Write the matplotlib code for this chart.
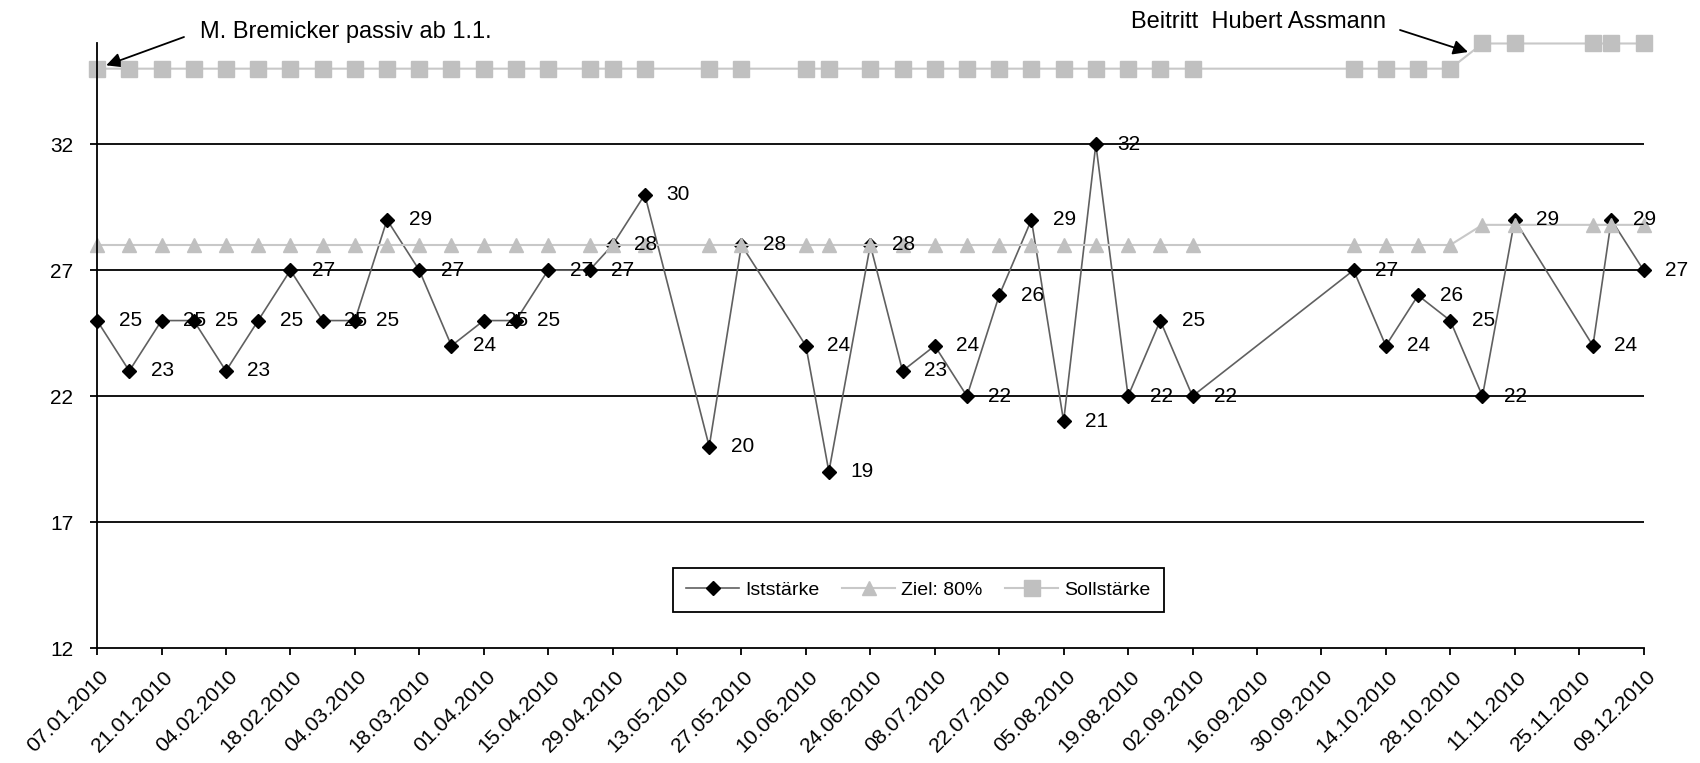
import matplotlib
matplotlib.use('Agg')
import matplotlib.pyplot as plt
import matplotlib.transforms as mtransforms
import pandas as pd

plt.rcParams['font.family'] = ['Liberation Sans', 'DejaVu Sans']

# Probentermine 2010
termine = ['07.01.2010', '14.01.2010', '21.01.2010', '28.01.2010', '04.02.2010', '11.02.2010',
           '18.02.2010', '25.02.2010', '04.03.2010', '11.03.2010', '18.03.2010', '25.03.2010',
           '01.04.2010', '08.04.2010', '15.04.2010', '24.04.2010', '29.04.2010', '06.05.2010',
           '20.05.2010', '27.05.2010', '10.06.2010', '15.06.2010', '24.06.2010', '01.07.2010',
           '08.07.2010', '15.07.2010', '22.07.2010', '29.07.2010', '05.08.2010', '12.08.2010',
           '19.08.2010', '26.08.2010', '02.09.2010', '07.10.2010', '14.10.2010', '21.10.2010',
           '28.10.2010', '04.11.2010', '11.11.2010', '28.11.2010', '02.12.2010', '09.12.2010']

iststaerke = [25, 23, 25, 25, 23, 25, 27, 25, 25, 29, 27, 24, 25, 25, 27, 27, 28, 30, 20, 28, 24,
              19, 28, 23, 24, 22, 26, 29, 21, 32, 22, 25, 22, 27, 24, 26, 25, 22, 29, 24, 29, 27]

ziel = [28, 28, 28, 28, 28, 28, 28, 28, 28, 28, 28, 28, 28, 28, 28, 28, 28, 28, 28, 28, 28,
        28, 28, 28, 28, 28, 28, 28, 28, 28, 28, 28, 28, 28, 28, 28, 28, 28.8, 28.8, 28.8, 28.8, 28.8]

sollstaerke = [35, 35, 35, 35, 35, 35, 35, 35, 35, 35, 35, 35, 35, 35, 35, 35, 35, 35, 35, 35, 35,
               35, 35, 35, 35, 35, 35, 35, 35, 35, 35, 35, 35, 35, 35, 35, 35, 36, 36, 36, 36, 36]

achse_termine = ['07.01.2010', '21.01.2010', '04.02.2010', '18.02.2010', '04.03.2010', '18.03.2010',
                 '01.04.2010', '15.04.2010', '29.04.2010', '13.05.2010', '27.05.2010', '10.06.2010',
                 '24.06.2010', '08.07.2010', '22.07.2010', '05.08.2010', '19.08.2010', '02.09.2010',
                 '16.09.2010', '30.09.2010', '14.10.2010', '28.10.2010', '11.11.2010', '25.11.2010',
                 '09.12.2010']

y_ticks = [12, 17, 22, 27, 32]

datum = pd.to_datetime(termine, format='%d.%m.%Y')
achse_datum = pd.to_datetime(achse_termine, format='%d.%m.%Y')

fig = plt.figure(figsize=(17, 7.63), dpi=100)
ax = fig.add_axes([0.0571, 0.1507, 0.9097, 0.7923])

# Gitternetz
for y in y_ticks[1:]:
    ax.axhline(y, color='black', linewidth=1.3, zorder=1)

ax.plot(datum, iststaerke, color='#606060', linewidth=1.2, marker='D', markersize=7.5,
        markerfacecolor='black', markeredgecolor='black', label='Iststärke', zorder=3, clip_on=False)
ax.plot(datum, ziel, color='#c8c8c8', linewidth=1.5, marker='^', markersize=10,
        markerfacecolor='#c0c0c0', markeredgecolor='#c0c0c0', label='Ziel: 80%', zorder=4, clip_on=False)
ax.plot(datum, sollstaerke, color='#c8c8c8', linewidth=1.5, marker='s', markersize=11.5,
        markerfacecolor='#c0c0c0', markeredgecolor='#c0c0c0', label='Sollstärke', zorder=4, clip_on=False)

# Datenbeschriftung Iststärke
for x_, y_ in zip(datum, iststaerke):
    ax.annotate(str(y_), (x_, y_), xytext=(15.5, 0), textcoords='offset points',
                ha='left', va='center', fontsize=15, color='black', zorder=6, annotation_clip=False)

ax.set_xlim(datum[0], datum[-1])
ax.set_ylim(12, 36)
ax.set_yticks(y_ticks)
ax.set_xticks(achse_datum)
ax.set_xticklabels(achse_termine, rotation=45, ha='right', va='top', rotation_mode='anchor')

for s in ['top', 'right']:
    ax.spines[s].set_visible(False)
for s in ['left', 'bottom']:
    ax.spines[s].set_linewidth(1.3)
    ax.spines[s].set_zorder(5)

ax.tick_params(axis='both', direction='out', length=5, width=1.3, labelsize=15, colors='black')
ax.tick_params(axis='x', pad=9, labelsize=15.3)
ax.tick_params(axis='y', pad=12)
offset = mtransforms.ScaledTranslation(0.02, 0, fig.dpi_scale_trans)
for lab in ax.get_xticklabels():
    lab.set_transform(lab.get_transform() + offset)

leg = ax.legend(loc='center', bbox_to_anchor=(0.531, 0.096), ncol=3, frameon=True, fancybox=False,
                edgecolor='black', fontsize=14, handlelength=2.7, columnspacing=1.2,
                borderpad=0.7, handletextpad=0.3, framealpha=1)
leg.get_frame().set_linewidth(1.3)

# Hinweise
fig.text(200 / 1700, 1 - 32 / 763, 'M. Bremicker passiv ab 1.1.', fontsize=17, ha='left', va='center')
ax.annotate('', xy=(datum[0], sollstaerke[0]), xytext=(184, 763 - 37), textcoords='figure pixels',
            arrowprops=dict(arrowstyle='-|>', color='black', lw=1.3, mutation_scale=22, shrinkA=0, shrinkB=7),
            annotation_clip=False)
fig.text(1131 / 1700, 1 - 22 / 763, 'Beitritt  Hubert Assmann', fontsize=17, ha='left', va='center')
ax.annotate('', xy=(1468, 763 - 52), xytext=(1400, 763 - 30), xycoords='figure pixels',
            textcoords='figure pixels',
            arrowprops=dict(arrowstyle='-|>', color='black', lw=1.3, mutation_scale=22, shrinkA=0, shrinkB=0),
            annotation_clip=False)

fig.savefig('out.png', dpi=100)
